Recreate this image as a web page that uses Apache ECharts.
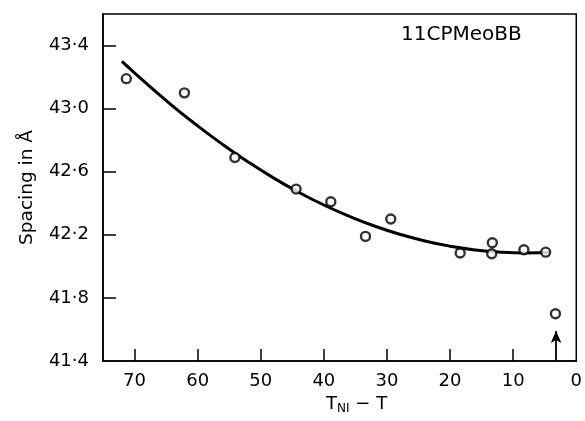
<!DOCTYPE html>
<html>
<head>
<meta charset="utf-8">
<script src="https://cdn.jsdelivr.net/npm/echarts@6/dist/echarts.min.js"></script>
<style>
html,body{margin:0;padding:0;background:#fff;}
#chart{width:585px;height:421px;}
</style>
</head>
<body>
<div id="chart"></div>
<script>
// Measured points (T_NI - T, spacing in Å)
const pointX = [71.3, 62.1, 54.1, 44.4, 38.9, 33.4, 29.4, 18.4, 13.3, 13.4, 8.3, 4.85, 3.3];
const pointY = [43.19, 43.10, 42.69, 42.49, 42.41, 42.19, 42.30, 42.085, 42.15, 42.08, 42.105, 42.09, 41.70];
// Fitted curve
const curveX = [72, 68, 64, 60, 56, 52, 48, 44, 40, 36, 32, 28, 24, 20, 16, 12, 8, 4.2];
const curveY = [43.30, 43.155, 43.018, 42.891, 42.772, 42.662, 42.561, 42.47, 42.389, 42.318, 42.256, 42.204, 42.161, 42.128, 42.104, 42.09, 42.085, 42.088];
// Arrow marking transition
const arrowX = 3.2;
const arrowY = [41.4, 41.59];
// Tick labels
const xTicks = [0, 10, 20, 30, 40, 50, 60, 70];
const yTicks = [41.4, 41.8, 42.2, 42.6, 43.0, 43.4];
const title = '11CPMeoBB';

const font = 'DejaVu Sans';
const chart = echarts.init(document.getElementById('chart'));
chart.setOption({
  animation: false,
  backgroundColor: '#fff',
  grid: { left: 103, right: 7, top: 14, bottom: 60, show: true, borderColor: '#000', borderWidth: 1.5 },
  xAxis: {
    type: 'value', inverse: true, min: 0, max: 75,
    axisLine: { show: true, onZero: false, lineStyle: { color: '#000', width: 1.5 } },
    axisTick: { show: true, inside: true, length: 12, lineStyle: { color: '#000', width: 1.5 }, customValues: xTicks.filter(v => v > 0) },
    axisLabel: { customValues: xTicks, color: '#000', fontFamily: font, fontSize: 18, margin: 11 },
    splitLine: { show: false },
    name: '{t|T}{s|NI}{t| − T}', nameLocation: 'middle', nameGap: 33,
    nameTextStyle: {
      padding: [0, 0, 0, 34],
      rich: {
        t: { fontFamily: font, fontSize: 18, color: '#000' },
        s: { fontFamily: font, fontSize: 12, color: '#000', verticalAlign: 'bottom', padding: [9, 0, 0, 0] }
      }
    }
  },
  yAxis: {
    type: 'value', min: 41.4, max: 43.6,
    axisLine: { show: true, onZero: false, lineStyle: { color: '#000', width: 1.5 } },
    axisTick: { show: true, inside: true, length: 13, lineStyle: { color: '#000', width: 1.5 }, customValues: yTicks.filter(v => v > 41.4) },
    axisLabel: { customValues: yTicks, color: '#000', fontFamily: font, fontSize: 18, margin: 14,
      formatter: v => v.toFixed(1).replace('.', '·') },
    splitLine: { show: false },
    name: 'Spacing in Å', nameLocation: 'middle', nameGap: 66,
    nameTextStyle: { fontFamily: font, fontSize: 18.5, color: '#000' }
  },
  graphic: [{
    type: 'text', left: 401, top: 25,
    style: { text: title, fontFamily: font, fontSize: 20, fill: '#000' }
  }],
  series: [
    {
      type: 'line', smooth: 0.5, symbol: 'none',
      data: curveX.map((x, i) => [x, curveY[i]]),
      lineStyle: { color: '#000', width: 3 },
      markLine: {
        silent: true, symbol: ['none', 'arrow'], symbolSize: [8, 12],
        label: { show: false },
        lineStyle: { color: '#000', width: 1.8, type: 'solid' },
        data: [[{ coord: [arrowX, arrowY[0]] }, { coord: [arrowX, arrowY[1]] }]]
      }
    },
    {
      type: 'scatter', symbol: 'circle', symbolSize: 9,
      data: pointX.map((x, i) => [x, pointY[i]]),
      itemStyle: { color: '#fff', borderColor: '#000', borderWidth: 2.4 },
      z: 3
    }
  ]
});
</script>
</body>
</html>
